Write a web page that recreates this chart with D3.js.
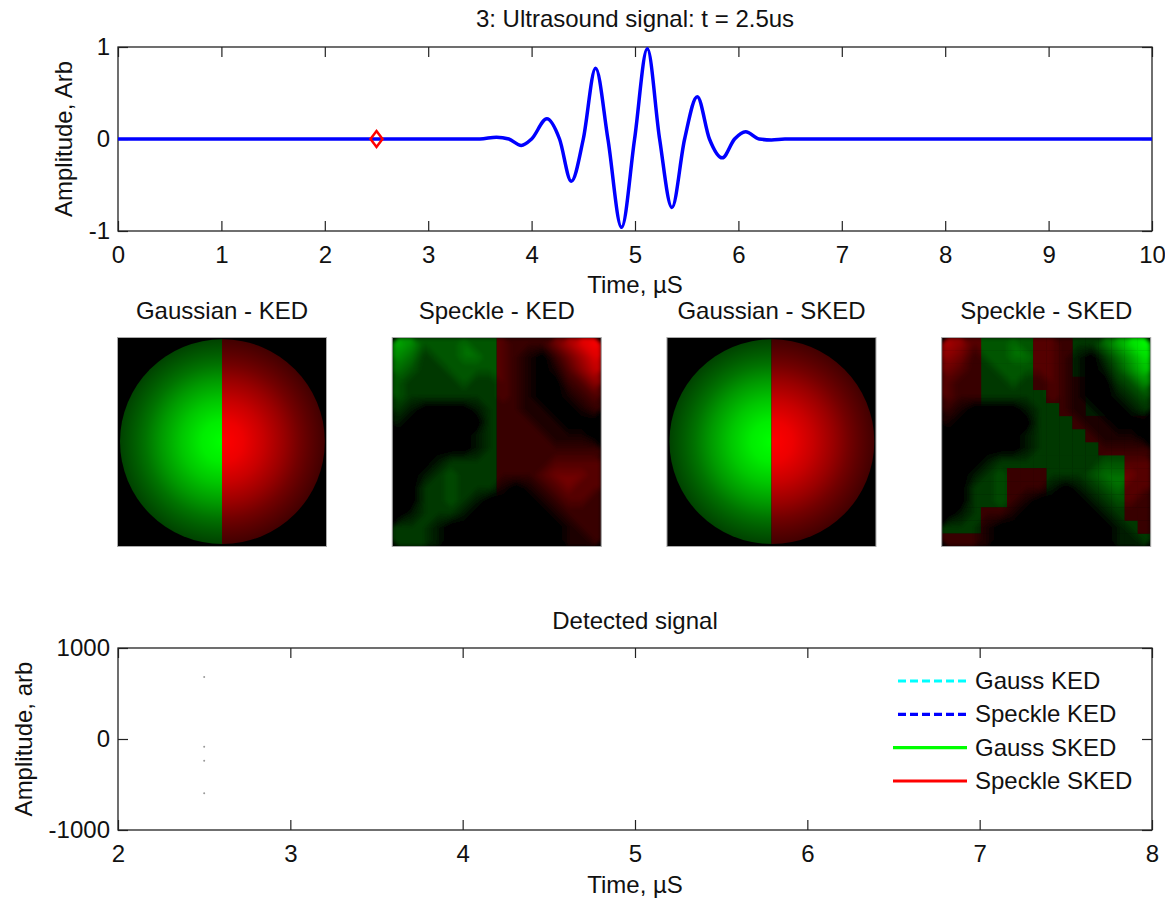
<!DOCTYPE html>
<html lang="en">
<head>
<meta charset="UTF-8">
<title>Ultrasound signal - KED / SKED</title>
<script src="https://cdn.jsdelivr.net/npm/d3@7"></script>
<style>
  body { margin: 0; background: #fff; }
  svg { font-family: "Liberation Sans", Arial, sans-serif; }
  .tick line { stroke: #222; stroke-width: 1.2; }
  .tick text { font-size: 24px; fill: #111; }
  .lbl { font-size: 24px; fill: #111; }
</style>
</head>
<body>
<svg id="fig" width="1165" height="899"></svg>
<script>
// ---- data ----
// top panel: ultrasound pulse (time in us, amplitude arb)
const sigTime = [0, 3.5, 3.66, 3.78, 3.9, 4.0, 4.148, 4.27, 4.384, 4.5, 4.619, 4.738, 4.87, 4.996,
                 5.119, 5.238, 5.357, 5.48, 5.602, 5.72, 5.844, 5.963, 6.07, 6.2, 6.32, 6.45, 10];
const sigAmp  = [0, 0, 0.02, 0, -0.07, 0, 0.22, 0, -0.46, 0, 0.77, 0, -0.96, 0,
                 0.98, 0, -0.745, 0, 0.46, 0, -0.205, 0, 0.08, 0, -0.01, 0, 0];
const markerTime = 2.5, markerAmp = 0;

const topXTicks = [0, 1, 2, 3, 4, 5, 6, 7, 8, 9, 10];
const topYTicks = [-1, 0, 1];

// image panels
const panelTitles = ["Gaussian - KED", "Speckle - KED", "Gaussian - SKED", "Speckle - SKED"];
// gaussian beam radial profile: radius fraction -> brightness
const gaussRadius = [0, 0.2, 0.4, 0.6, 0.75, 0.85, 0.93, 1.0];
const gaussLevel  = [1.0, 0.93, 0.78, 0.6, 0.45, 0.37, 0.31, 0.26];
// speckle magnitude, 16x16, digits 0..9 (9 = full brightness)
const speckleMag = [
  "6533343332224689",
  "5423344332102468",
  "4322333332101357",
  "3222232232100235",
  "3222222232100123",
  "2100001222110012",
  "1000000222211000",
  "0000001222221110",
  "0000001222222222",
  "0001222222223333",
  "0012322222234443",
  "0022322210123433",
  "0022321000012332",
  "0122210000001222",
  "2221000000000122",
  "2221000000000112"
];
// SKED sign map for the speckle case (g = green, r = red)
const speckleSign = [
  "rrrggggrrrgggggg",
  "rrrggggrrrgggggg",
  "rrrggggrrrgggggg",
  "rrrggggrrrrggggg",
  "rrrgggggrrrggggg",
  "rrrggggggrrggggg",
  "rrggggggggrrrrrr",
  "gggggggggggrrrrr",
  "ggggggggggggrrrr",
  "ggggggggggggggrr",
  "gggggrrrggggggrr",
  "gggggrrrggggggrr",
  "gggggrrrggggggrr",
  "gggrrrrgggggggrr",
  "gggrrrrggggggggr",
  "rrrrrrrggggggggg"
];

// bottom panel: detected signal (only t = 2.5 us so far)
const detNames  = ["Gauss KED", "Speckle KED", "Gauss SKED", "Speckle SKED"];
const detColors = ["#00ffff", "#0000ff", "#00ff00", "#ff0000"];
const detDashed = [true, true, false, false];
const detTime   = [2.5, 2.5, 2.5, 2.5];
const detAmp    = [680, -85, -240, -595];
const botXTicks = [2, 3, 4, 5, 6, 7, 8];
const botYTicks = [-1000, 0, 1000];

// ---- drawing ----
const svg = d3.select("#fig");
svg.append("rect").attr("width", 1165).attr("height", 899).attr("fill", "#fff");
const defs = svg.append("defs");

function matlabAxes(box, x, y, xTicks, yTicks) {
  const g = svg.append("g");
  g.append("g").attr("transform", `translate(0,${box.bottom})`)
    .call(d3.axisBottom(x).tickValues(xTicks).tickSize(-10).tickPadding(15).tickFormat(d => String(d)));
  g.append("g").attr("transform", `translate(0,${box.top})`)
    .call(d3.axisTop(x).tickValues(xTicks).tickSize(-10).tickFormat(""));
  g.append("g").attr("transform", `translate(${box.left},0)`)
    .call(d3.axisLeft(y).tickValues(yTicks).tickSize(-10).tickPadding(8).tickFormat(d => String(d)));
  g.append("g").attr("transform", `translate(${box.right},0)`)
    .call(d3.axisRight(y).tickValues(yTicks).tickSize(-10).tickFormat(""));
  g.selectAll(".domain").remove();
  g.selectAll(".tick text").attr("font-family", null).attr("font-size", null);
  g.append("rect")
    .attr("x", box.left).attr("y", box.top)
    .attr("width", box.right - box.left).attr("height", box.bottom - box.top)
    .attr("fill", "none").attr("stroke", "#222").attr("stroke-width", 1.3);
  return g;
}

// top panel
const boxA = {left: 118, right: 1152, top: 47, bottom: 231};
const xA = d3.scaleLinear().domain([0, 10]).range([boxA.left, boxA.right]);
const yA = d3.scaleLinear().domain([-1, 1]).range([boxA.bottom, boxA.top]);
matlabAxes(boxA, xA, yA, topXTicks, topYTicks);

const sig = sigTime.map((t, i) => [t, sigAmp[i]]);
svg.append("path").datum(sig)
  .attr("d", d3.line().x(d => xA(d[0])).y(d => yA(d[1])).curve(d3.curveMonotoneX))
  .attr("fill", "none").attr("stroke", "#0000ff").attr("stroke-width", 3.5)
  .attr("stroke-linejoin", "round");

const mx = xA(markerTime), my = yA(markerAmp);
svg.append("path")
  .attr("d", `M${mx},${my - 8}L${mx + 6},${my}L${mx},${my + 8}L${mx - 6},${my}Z`)
  .attr("fill", "none").attr("stroke", "#ff0000").attr("stroke-width", 2.5);

svg.append("text").attr("class", "lbl").attr("x", (boxA.left + boxA.right) / 2).attr("y", 27)
  .attr("text-anchor", "middle").text("3: Ultrasound signal: t = 2.5us");
svg.append("text").attr("class", "lbl").attr("x", (boxA.left + boxA.right) / 2).attr("y", 293)
  .attr("text-anchor", "middle").text("Time, \u00b5S");
svg.append("text").attr("class", "lbl")
  .attr("transform", `translate(72,${(boxA.top + boxA.bottom) / 2}) rotate(-90)`)
  .attr("text-anchor", "middle").text("Amplitude, Arb");

// image panels
const imgSize = 209, imgTop = 337.5;
const imgX = d3.scalePoint().domain(panelTitles).range([117.5, 941.7]);

const greenOf = v => d3.rgb(0, Math.round(255 * v), 0).toString();
const redOf = v => d3.rgb(Math.round(255 * v), 0, 0).toString();

["g", "r"].forEach(c => {
  const grad = defs.append("radialGradient").attr("id", "gauss-" + c)
    .attr("cx", "50%").attr("cy", "50%").attr("r", "50%");
  gaussRadius.forEach((r, i) => {
    grad.append("stop").attr("offset", (r * 100) + "%")
      .attr("stop-color", c === "g" ? greenOf(gaussLevel[i]) : redOf(gaussLevel[i]));
  });
});

// soften the coarse contour steps a little
defs.append("filter").attr("id", "soft")
  .attr("filterUnits", "userSpaceOnUse")
  .attr("x", 0).attr("y", 0).attr("width", 209).attr("height", 209)
  .append("feGaussianBlur").attr("stdDeviation", 2.2).attr("edgeMode", "duplicate");

const n = speckleMag.length;
const magValues = speckleMag.flatMap(s => s.split("").map(Number));
const contours = d3.contours().size([n, n]).thresholds(d3.range(0.5, 9.01, 0.5))(magValues);
const cell = d3.scaleLinear().domain([0, n]).range([0, imgSize]);
const geo = d3.geoPath(d3.geoIdentity().scale(imgSize / n));

function halfClip(id, left) {
  defs.append("clipPath").attr("id", id).append("rect")
    .attr("x", left ? 0 : imgSize / 2).attr("y", 0)
    .attr("width", imgSize / 2).attr("height", imgSize);
}
halfClip("half-l", true);
halfClip("half-r", false);

function signClip(id, ch) {
  const cp = defs.append("clipPath").attr("id", id);
  speckleSign.forEach((row, j) => row.split("").forEach((s, i) => {
    if (s === ch) cp.append("rect").attr("x", cell(i)).attr("y", cell(j))
      .attr("width", cell(1) + 0.3).attr("height", cell(1) + 0.3);
  }));
}
signClip("sign-g", "g");
signClip("sign-r", "r");

function drawGauss(g) {
  const cx = imgSize * 0.502, cy = imgSize * 0.498, r = imgSize * 0.49;
  g.append("circle").attr("cx", cx).attr("cy", cy).attr("r", r)
    .attr("fill", "url(#gauss-g)").attr("clip-path", "url(#half-l)");
  g.append("circle").attr("cx", cx).attr("cy", cy).attr("r", r)
    .attr("fill", "url(#gauss-r)").attr("clip-path", "url(#half-r)");
}

function drawSpeckle(g, clipG, clipR) {
  [[clipG, greenOf], [clipR, redOf]].forEach(([clip, col]) => {
    g.append("g").attr("clip-path", `url(#${clip})`)
      .append("g").attr("filter", "url(#soft)")
      .selectAll("path").data(contours).join("path")
      .attr("d", geo).attr("fill", d => col(d.value / 9));
  });
}

panelTitles.forEach((title, k) => {
  const g = svg.append("g").attr("transform", `translate(${imgX(title)},${imgTop})`);
  g.append("rect").attr("width", imgSize).attr("height", imgSize).attr("fill", "#000");
  if (k === 0 || k === 2) drawGauss(g);
  else if (k === 1) drawSpeckle(g, "half-l", "half-r");
  else drawSpeckle(g, "sign-g", "sign-r");
  g.append("rect").attr("width", imgSize).attr("height", imgSize)
    .attr("fill", "none").attr("stroke", "#aaa").attr("stroke-width", 1);
  svg.append("text").attr("class", "lbl").attr("x", imgX(title) + imgSize / 2).attr("y", 319)
    .attr("text-anchor", "middle").text(title);
});

// bottom panel
const boxB = {left: 118, right: 1152, top: 648, bottom: 830};
const xB = d3.scaleLinear().domain([2, 8]).range([boxB.left, boxB.right]);
const yB = d3.scaleLinear().domain([-1000, 1000]).range([boxB.bottom, boxB.top]);
matlabAxes(boxB, xB, yB, botXTicks, botYTicks);

svg.append("g").selectAll("circle").data(detAmp).join("circle")
  .attr("cx", (d, i) => xB(detTime[i])).attr("cy", d => yB(d))
  .attr("r", 1).attr("fill", "#999");

svg.append("text").attr("class", "lbl").attr("x", (boxB.left + boxB.right) / 2).attr("y", 629)
  .attr("text-anchor", "middle").text("Detected signal");
svg.append("text").attr("class", "lbl").attr("x", (boxB.left + boxB.right) / 2).attr("y", 893)
  .attr("text-anchor", "middle").text("Time, \u00b5S");
svg.append("text").attr("class", "lbl")
  .attr("transform", `translate(32,${(boxB.top + boxB.bottom) / 2}) rotate(-90)`)
  .attr("text-anchor", "middle").text("Amplitude, arb");

// legend (no frame)
const legY = d3.scalePoint().domain(detNames).range([681, 781]);
const leg = svg.append("g");
detNames.forEach((name, i) => {
  leg.append("line")
    .attr("x1", detDashed[i] ? 898 : 893).attr("x2", 967)
    .attr("y1", legY(name)).attr("y2", legY(name))
    .attr("stroke", detColors[i]).attr("stroke-width", 3.2)
    .attr("stroke-dasharray", detDashed[i] ? "8,4" : null);
  leg.append("text").attr("class", "lbl").attr("x", 975).attr("y", legY(name) + 8)
    .text(name);
});
</script>
</body>
</html>
